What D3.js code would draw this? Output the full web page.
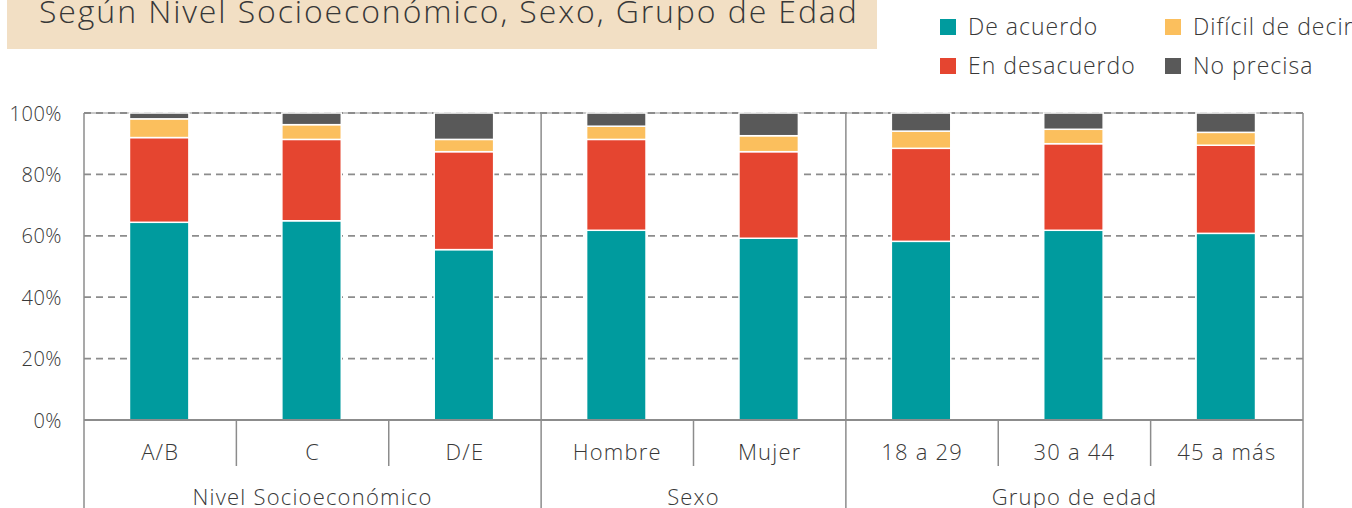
<!DOCTYPE html>
<html>
<head>
<meta charset="utf-8">
<script src="https://cdn.jsdelivr.net/npm/d3@7"></script>
<style>
  body { margin: 0; background: #fff; }
  text { font-family: "Open Sans", Lato, sans-serif; fill: #383838; font-weight: 300; }
</style>
</head>
<body>
<div id="chart"></div>
<script>
// values (percent)
var categories = ["A/B", "C", "D/E", "Hombre", "Mujer", "18 a 29", "30 a 44", "45 a más"];
var groups = ["Nivel Socioeconómico", "Sexo", "Grupo de edad"];
var groupSizes = [3, 2, 3];
var seriesNames = ["De acuerdo", "En desacuerdo", "Difícil de decir", "No precisa"];
var deAcuerdo = [64.4, 64.9, 55.5, 61.8, 59.2, 58.2, 61.8, 60.8];
var enDesacuerdo = [27.6, 26.5, 31.9, 29.6, 28.2, 30.3, 28.2, 28.7];
var dificil = [6.1, 4.8, 4.0, 4.3, 5.2, 5.6, 4.7, 4.2];
var noPrecisa = [1.9, 3.8, 8.6, 4.3, 7.4, 5.9, 5.3, 6.3];
var yTicks = [0, 20, 40, 60, 80, 100];
var title = "Según Nivel Socioeconómico, Sexo, Grupo de Edad";

var colors = ["#009b9e", "#e54530", "#fbbf5d", "#595959"];
var lineColor = "#8c8c8c";

var width = 1352, height = 508;
var plotLeft = 84, plotRight = 1303, plotTop = 113, plotBottom = 420;

var svg = d3.select("#chart").append("svg")
  .attr("width", width)
  .attr("height", height);

// title box
svg.append("rect")
  .attr("x", 7).attr("y", 0)
  .attr("width", 870).attr("height", 49)
  .attr("fill", "#f2dfc4");
svg.append("text")
  .attr("x", 39).attr("y", 23)
  .style("font-size", "32px")
  .style("letter-spacing", "1.9px")
  .text(title);

var x = d3.scaleBand()
  .domain(categories)
  .range([plotLeft, plotRight])
  .padding(0);

var y = d3.scaleLinear()
  .domain([0, 100])
  .range([plotBottom, plotTop]);

// grid lines
svg.append("line")
  .attr("x1", plotLeft).attr("x2", plotRight)
  .attr("y1", y(100)).attr("y2", y(100))
  .style("stroke", "#c9c9c9").style("stroke-width", 2);
svg.selectAll(".grid")
  .data(yTicks.filter(function (d) { return d > 0; }))
  .enter().append("line")
  .attr("class", "grid")
  .attr("x1", plotLeft).attr("x2", plotRight)
  .attr("y1", function (d) { return y(d); })
  .attr("y2", function (d) { return y(d); })
  .style("stroke", lineColor)
  .style("stroke-width", 1.8)
  .style("stroke-dasharray", "7,5");

// y axis labels
var yAxis = d3.axisLeft(y)
  .tickValues(yTicks)
  .tickSize(0)
  .tickPadding(22)
  .tickFormat(function (d) { return d + "%"; });
var yg = svg.append("g")
  .attr("transform", "translate(" + plotLeft + ",0)")
  .call(yAxis);
yg.select(".domain").remove();
yg.selectAll("text")
  .style("font-size", "20px")
  .style("font-family", "'Open Sans', Lato, sans-serif")
  .style("font-weight", 300)
  .style("letter-spacing", "0.5px")
  .style("fill", "#383838")
  .attr("dy", "0.35em");

// stacked bars
var rows = categories.map(function (c, i) {
  return { cat: c, s0: deAcuerdo[i], s1: enDesacuerdo[i], s2: dificil[i], s3: noPrecisa[i] };
});
var stack = d3.stack().keys(["s0", "s1", "s2", "s3"]);
var stacked = stack(rows);
var barW = x.bandwidth() * 0.39;

svg.selectAll(".series")
  .data(stacked)
  .enter().append("g")
  .attr("class", "series")
  .style("fill", function (d, i) { return colors[i]; })
  .selectAll("rect")
  .data(function (d) { return d; })
  .enter().append("rect")
  .attr("x", function (d) { return x(d.data.cat) + (x.bandwidth() - barW) / 2 - 1; })
  .attr("width", barW)
  .attr("y", function (d) { return y(d[1]); })
  .attr("height", function (d) { return y(d[0]) - y(d[1]); })
  .style("stroke", "#fff")
  .style("stroke-width", 1.5);

// axis frame
svg.append("line")
  .attr("x1", plotLeft).attr("x2", plotRight)
  .attr("y1", plotBottom).attr("y2", plotBottom)
  .style("stroke", lineColor).style("stroke-width", 2);

// group boundaries (full height)
var bounds = [0];
groupSizes.forEach(function (n, i) { bounds.push(bounds[i] + n); });
function edge(idx) {
  return idx < categories.length ? x(categories[idx]) : plotRight;
}
svg.selectAll(".gsep")
  .data(bounds)
  .enter().append("line")
  .attr("class", "gsep")
  .attr("x1", function (d) { return edge(d); })
  .attr("x2", function (d) { return edge(d); })
  .attr("y1", plotTop).attr("y2", height)
  .style("stroke", lineColor).style("stroke-width", 1.5);

// category boundaries inside groups
var inner = [];
categories.forEach(function (c, i) {
  if (i > 0 && bounds.indexOf(i) < 0) inner.push(i);
});
svg.selectAll(".csep")
  .data(inner)
  .enter().append("line")
  .attr("class", "csep")
  .attr("x1", function (d) { return edge(d); })
  .attr("x2", function (d) { return edge(d); })
  .attr("y1", plotBottom).attr("y2", 466)
  .style("stroke", lineColor).style("stroke-width", 1.5);

// category labels
svg.selectAll(".cat")
  .data(categories)
  .enter().append("text")
  .attr("class", "cat")
  .attr("x", function (d) { return x(d) + x.bandwidth() / 2; })
  .attr("y", 460)
  .attr("text-anchor", "middle")
  .style("font-size", "22px")
  .style("letter-spacing", "1.2px")
  .text(function (d) { return d; });

// group labels
svg.selectAll(".grp")
  .data(groups)
  .enter().append("text")
  .attr("class", "grp")
  .attr("x", function (d, i) { return (edge(bounds[i]) + edge(bounds[i + 1])) / 2; })
  .attr("y", 505)
  .attr("text-anchor", "middle")
  .style("font-size", "22px")
  .style("letter-spacing", "1.2px")
  .text(function (d) { return d; });

// legend
var legendPos = [[940, 27], [940, 66], [1165, 27], [1165, 66]];
var legend = svg.selectAll(".legend")
  .data(seriesNames)
  .enter().append("g")
  .attr("class", "legend")
  .attr("transform", function (d, i) { return "translate(" + legendPos[i][0] + "," + legendPos[i][1] + ")"; });
legend.append("rect")
  .attr("x", 0).attr("y", -8)
  .attr("width", 16).attr("height", 16)
  .style("fill", function (d, i) { return colors[i]; });
legend.append("text")
  .attr("x", 28).attr("y", 0)
  .attr("dy", "0.36em")
  .style("font-size", "23px")
  .style("letter-spacing", "1px")
  .text(function (d) { return d; });
</script>
</body>
</html>
